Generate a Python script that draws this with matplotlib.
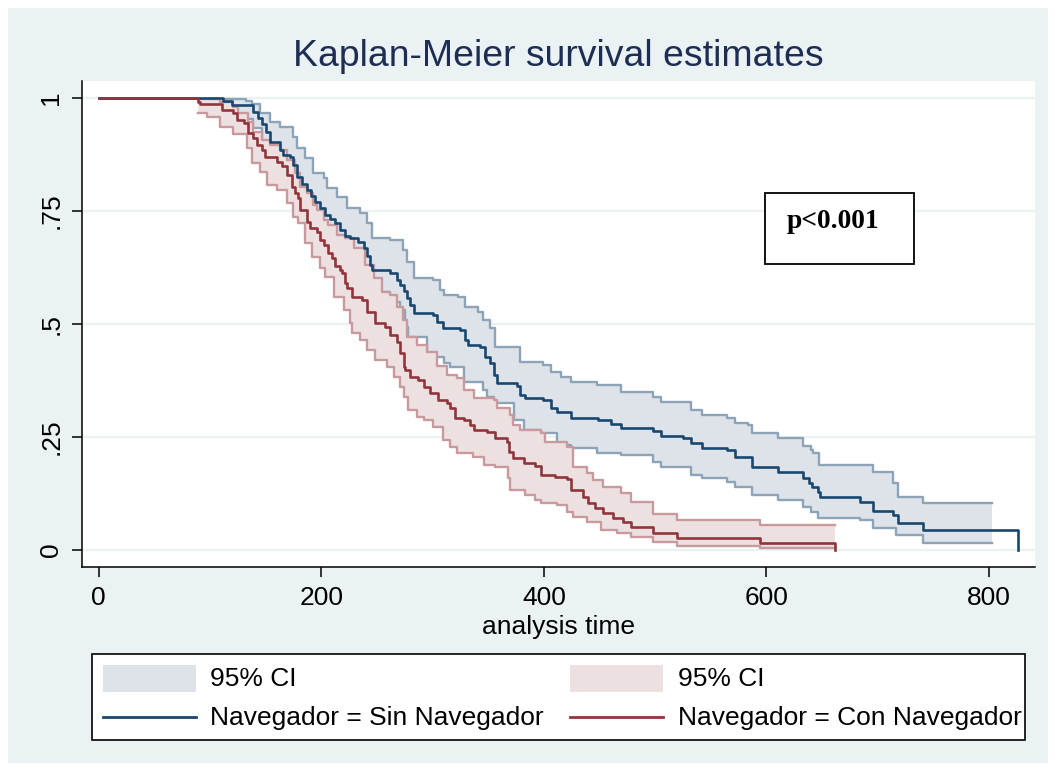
import numpy as np
import matplotlib
matplotlib.use("Agg")
import matplotlib.pyplot as plt
from matplotlib.patches import Rectangle
from matplotlib.lines import Line2D

# ---------------- data ----------------
# Sin Navegador: Kaplan-Meier estimate (time, survival after step)
sin_t = [0, 112, 120, 139, 143, 147, 150, 154, 163, 166,
         172, 175, 178, 183, 187, 191, 194, 199, 203, 208,
         212, 217, 221, 226, 233, 238, 241, 244, 246, 262,
         268, 271, 274, 277, 280, 283, 300, 304, 309, 325,
         329, 332, 343, 347, 352, 355, 358, 376, 379, 383,
         399, 406, 412, 424, 449, 460, 469, 498, 505, 525,
         532, 542, 565, 572, 587, 610, 633, 638, 641, 646,
         648, 684, 696, 714, 718, 741, 826]
sin_s = [1.0, .994, .985, .970, .956, .943, .925, .903, .886, .875,
         .870, .852, .826, .810, .797, .784, .770, .757, .742, .733,
         .724, .708, .695, .691, .682, .669, .651, .631, .620, .613,
         .598, .587, .573, .558, .542, .525, .520, .505, .492, .487,
         .465, .454, .449, .427, .414, .387, .370, .363, .343, .337,
         .332, .314, .306, .292, .288, .279, .270, .263, .252, .248,
         .237, .226, .221, .206, .184, .173, .159, .148, .139, .128,
         .117, .106, .086, .077, .060, .044, 0.0]
sin_hi_t = [112, 132, 138, 145, 154, 163, 175, 178, 185, 193,
            202, 205, 214, 223, 235, 241, 246, 262, 273, 277,
            283, 300, 307, 310, 323, 329, 341, 345, 352, 356,
            379, 399, 406, 415, 424, 448, 469, 498, 505, 532,
            542, 565, 572, 583, 587, 610, 633, 640, 642, 647,
            696, 714, 718, 741]
sin_hi_s = [.999, .994, .987, .967, .948, .937, .914, .890, .868, .835,
            .824, .801, .782, .757, .746, .724, .691, .686, .664, .638,
            .602, .598, .576, .565, .560, .538, .527, .509, .492, .449,
            .416, .410, .394, .383, .372, .365, .350, .339, .328, .310,
            .299, .292, .281, .277, .259, .248, .230, .221, .215, .188,
            .173, .148, .117, .104]
sin_lo_t = [112, 120, 139, 147, 154, 166, 175, 183, 191, 199,
            208, 217, 226, 238, 244, 262, 271, 275, 278, 295,
            310, 316, 328, 345, 349, 355, 373, 382, 397, 412,
            424, 448, 469, 498, 505, 532, 542, 565, 572, 587,
            610, 633, 640, 646, 684, 696, 716, 741]
sin_lo_s = [.975, .955, .935, .905, .862, .830, .805, .760, .730, .700,
            .670, .645, .625, .600, .570, .548, .531, .494, .472, .427,
            .414, .405, .372, .354, .339, .325, .288, .266, .259, .232,
            .226, .215, .210, .195, .184, .166, .159, .151, .139, .122,
            .111, .095, .084, .071, .066, .049, .033, .015]
sin_ci_end = 803

# Con Navegador
con_t = [0, 89, 91, 111, 121, 124, 131, 134, 139, 142,
         147, 149, 160, 165, 169, 174, 176, 179, 181, 187,
         190, 196, 199, 202, 206, 210, 212, 217, 219, 221,
         223, 228, 237, 241, 248, 257, 262, 268, 271, 274,
         275, 280, 287, 292, 298, 305, 313, 316, 320, 328,
         334, 337, 349, 356, 367, 369, 372, 382, 392, 397,
         410, 421, 424, 435, 440, 446, 453, 462, 471, 478,
         498, 520, 594, 662]
con_s = [1.0, .992, .987, .974, .967, .952, .945, .923, .912, .897,
         .886, .870, .859, .850, .830, .804, .790, .779, .753, .726,
         .713, .704, .686, .675, .658, .646, .629, .620, .613, .591,
         .580, .560, .554, .527, .503, .494, .476, .461, .436, .405,
         .399, .383, .376, .361, .348, .332, .325, .314, .292, .288,
         .277, .266, .261, .248, .239, .217, .204, .193, .186, .166,
         .162, .157, .133, .117, .104, .093, .082, .071, .062, .051,
         .038, .027, .015, 0.0]
con_hi_t = [89, 109, 121, 125, 134, 139, 147, 154, 163, 169,
            176, 181, 187, 193, 196, 202, 206, 214, 221, 229,
            239, 247, 255, 262, 268, 273, 277, 286, 295, 304,
            313, 322, 328, 337, 355, 358, 370, 372, 379, 397,
            401, 421, 426, 439, 444, 453, 469, 478, 498, 520,
            594]
con_hi_s = [.999, .992, .981, .967, .948, .925, .908, .897, .886, .863,
            .835, .804, .790, .764, .753, .731, .720, .697, .691, .669,
            .631, .602, .571, .565, .538, .509, .472, .454, .438, .407,
            .387, .381, .354, .337, .332, .314, .299, .277, .266, .259,
            .239, .228, .184, .170, .155, .139, .126, .106, .080, .066,
            .055]
con_lo_t = [89, 97, 109, 121, 133, 138, 145, 151, 160, 169,
            175, 179, 185, 192, 199, 203, 211, 220, 226, 228,
            235, 241, 248, 259, 265, 271, 274, 278, 286, 292,
            300, 309, 316, 322, 336, 346, 356, 368, 370, 383,
            392, 397, 412, 421, 426, 439, 451, 466, 478, 498,
            520, 594]
con_lo_s = [.967, .959, .937, .921, .890, .857, .837, .808, .797, .768,
            .737, .724, .680, .649, .624, .604, .560, .531, .503, .480,
            .465, .443, .421, .405, .383, .361, .339, .310, .294, .288,
            .272, .244, .228, .215, .206, .188, .184, .159, .133, .122,
            .111, .104, .100, .084, .073, .062, .044, .038, .029, .018,
            .009, .004]
con_ci_end = 662

x_ticks = [0, 200, 400, 600, 800]
y_ticks = [0, 0.25, 0.5, 0.75, 1.0]
y_tick_labels = ["0", ".25", ".5", ".75", "1"]
title = "Kaplan-Meier survival estimates"
x_label = "analysis time"
legend_labels = ["95% CI", "Navegador = Sin Navegador",
                 "95% CI", "Navegador = Con Navegador"]
p_text = "p<0.001"

# ---------------- style ----------------
W, H = 1056, 771
BG = "#EAF2F3"
NAVY = "#1A476F"
MAROON = "#90353B"
NAVY_FILL = "#DDE3E9"
NAVY_EDGE = "#8DA3B7"
MAROON_FILL = "#EDE0E1"
MAROON_EDGE = "#C8999D"
TITLE_C = "#1E2D53"
FS = 19
plt.rcParams["font.family"] = ["Liberation Sans", "DejaVu Sans"]

fig = plt.figure(figsize=(W / 100, H / 100), dpi=100)
fig.patch.set_facecolor("white")
fig.add_artist(Rectangle((8 / W, 1 - 763 / H), 1040 / W, 755 / H,
                         transform=fig.transFigure, facecolor=BG,
                         edgecolor="none", zorder=0))

ax = fig.add_axes([82 / W, 1 - 567 / H, (1035 - 82) / W, (567 - 81) / H])
ax.set_facecolor("white")
ax.set_xlim(-15, 841.3)
ax.set_ylim(-0.0376, 1.038)


def step_at(tk, sv, x):
    idx = np.searchsorted(np.asarray(tk), x, side="right") - 1
    return np.asarray(sv)[idx]


def draw_ci(hi_t, hi_s, lo_t, lo_s, end, fill, edge, z):
    xs = np.array(sorted(set(hi_t) | set(lo_t) | {end}), dtype=float)
    hi = step_at(hi_t, hi_s, xs)
    lo = step_at(lo_t, lo_s, xs)
    ax.fill_between(xs, lo, hi, step="post", facecolor=fill,
                    edgecolor="none", linewidth=0, zorder=z)
    ax.step(list(hi_t) + [end], list(hi_s) + [hi_s[-1]], where="post",
            color=edge, lw=1.7, zorder=z + 0.1)
    ax.step(list(lo_t) + [end], list(lo_s) + [lo_s[-1]], where="post",
            color=edge, lw=1.7, zorder=z + 0.1)


draw_ci(sin_hi_t, sin_hi_s, sin_lo_t, sin_lo_s, sin_ci_end,
        NAVY_FILL, NAVY_EDGE, 2)
draw_ci(con_hi_t, con_hi_s, con_lo_t, con_lo_s, con_ci_end,
        MAROON_FILL, MAROON_EDGE, 3)
ax.step(sin_t, sin_s, where="post", color=NAVY, lw=1.9, zorder=5)
ax.step(con_t, con_s, where="post", color=MAROON, lw=1.9, zorder=5)

# axes styling
for s in ["top", "right"]:
    ax.spines[s].set_visible(False)
for s in ["left", "bottom"]:
    ax.spines[s].set_color("black")
    ax.spines[s].set_linewidth(1.1)
ax.set_xticks(x_ticks)
ax.set_xticklabels([str(v) for v in x_ticks])
ax.set_yticks(y_ticks)
ax.set_yticklabels(y_tick_labels, rotation=90, va="center")
ax.tick_params(axis="both", direction="out", length=7.5, width=1.1,
               color="black", labelsize=FS, labelcolor="black", pad=6)
ax.yaxis.grid(True, color=BG, lw=1.6)
ax.xaxis.grid(False)
ax.set_axisbelow(True)
ax.set_xlabel(x_label, fontsize=FS, labelpad=3.5)

fig.text(558 / W, 1 - 56 / H, title, ha="center", va="center",
         fontsize=26.9, color=TITLE_C)

# p-value box
ax.add_patch(Rectangle(((765 - 82) / 953, (567 - 264) / 486),
                       149 / 953, 71 / 486, transform=ax.transAxes,
                       facecolor="white", edgecolor="black", lw=1.3, zorder=6))
ax.text((787 - 82) / 953, (567 - 222) / 486, p_text, transform=ax.transAxes,
        ha="left", va="center", fontsize=19.8, fontweight="bold",
        family=["Liberation Serif", "DejaVu Serif"], zorder=7)

# legend (drawn manually to match layout)
fig.add_artist(Rectangle((92 / W, 1 - 740 / H), (1025 - 92) / W, 86 / H,
                         transform=fig.transFigure, facecolor="white",
                         edgecolor="black", lw=1.2, zorder=1))
cols = [(103, 196, 210), (570, 663, 678)]
fills = [NAVY_FILL, MAROON_FILL]
lines = [NAVY, MAROON]
for i, (x0, x1, xt) in enumerate(cols):
    fig.add_artist(Rectangle((x0 / W, 1 - 692 / H), (x1 - x0) / W, 27 / H,
                             transform=fig.transFigure, facecolor=fills[i],
                             edgecolor="none", zorder=2))
    fig.add_artist(Line2D([x0 / W, x1 / W], [1 - 717 / H, 1 - 717 / H],
                          transform=fig.transFigure, color=lines[i],
                          lw=2.0, zorder=2))
    fig.text(xt / W, 1 - 679 / H, legend_labels[2 * i], ha="left",
             va="center", fontsize=FS, zorder=3)
    fig.text(xt / W, 1 - 718 / H, legend_labels[2 * i + 1], ha="left",
             va="center", fontsize=FS, zorder=3)

fig.savefig("out.png", dpi=100)
